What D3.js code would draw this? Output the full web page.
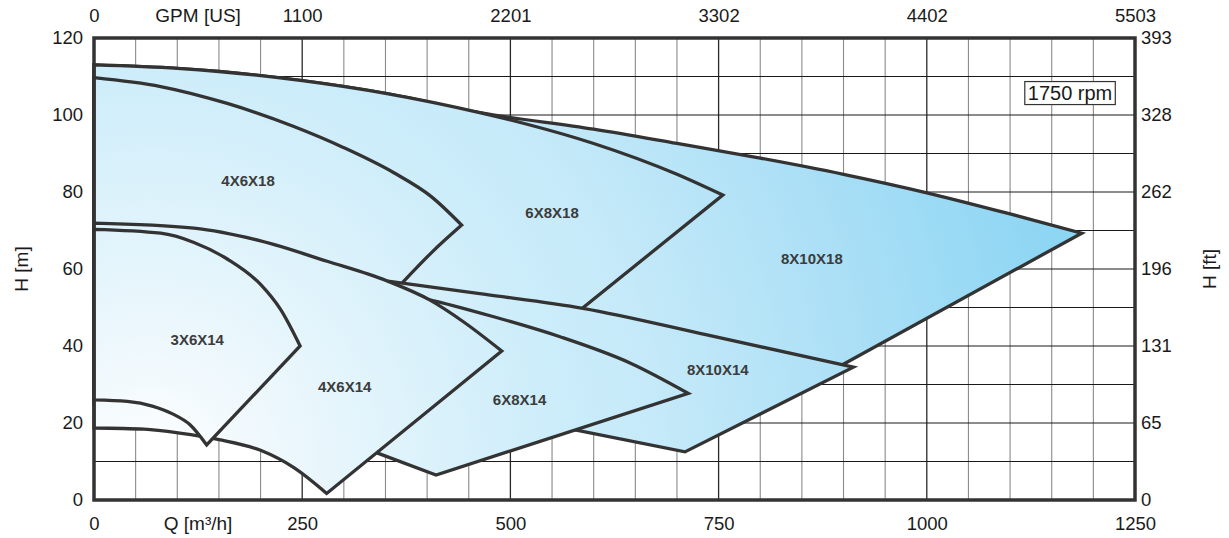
<!DOCTYPE html>
<html>
<head>
<meta charset="utf-8">
<script src="https://cdn.jsdelivr.net/npm/d3@7"></script>
<style>
html,body{margin:0;padding:0;background:#fff;}
svg{display:block;font-family:"Liberation Sans",Arial,Helvetica,sans-serif;}
</style>
</head>
<body>
<svg id="chart" width="1229" height="538"></svg>
<script>
// ---------- axes / ticks ----------
const qTicks = [0, 250, 500, 750, 1000, 1250];
const gpmTickLabels = ["0", "1100", "2201", "3302", "4402", "5503"];
const hTicks = [0, 20, 40, 60, 80, 100, 120];
const ftTickLabels = ["0", "65", "131", "196", "262", "328", "393"];
const qGridStep = 50;
const hGridStep = 10;
const rpmText = "1750 rpm";

// ---------- pump envelopes [Q m3/h, H m] ----------
// 8X10X18
const max8x10x18 = [[0,113],[100,112.1],[150,111.3],[250,108.9],[350,105.6],[463,100.6],[600,96.3],[700,92.6],[800,88.8],[900,84.6],[1000,79.8],[1100,74.3],[1186,69.3]];
const edge8x10x18 = [[1186,69.3],[890,34.1]];
const min8x10x18 = [[890,34.1],[736,41],[587,48],[355,55],[0,50]];
// 6X8X18
const max6x8x18 = [[0,113],[100,112.1],[150,111.3],[250,108.9],[350,105.6],[463,100.6],[520,97.6],[600,92.6],[700,84.6],[755,79.2]];
const edge6x8x18 = [[755,79.2],[580,48.7]];
const min6x8x18 = [[580,48.7],[355,55],[0,50]];
// 4X6X18
const max4x6x18 = [[0,109.7],[80,107.4],[160,103],[240,97],[300,91.5],[360,85],[405,78.8],[441.5,71.4]];
const edge4x6x18 = [[441.5,71.4],[405,64.2],[371,56.6]];
const min4x6x18 = [[371,56.6],[366,54.5],[0,50]];
// 8X10X14
const max8x10x14 = [[0,64],[200,60.8],[355,56.8],[470,53.4],[587,49.8],[736,42.9],[911.8,34.5]];
const edge8x10x14 = [[911.8,34.5],[709.6,12.5]];
const min8x10x14 = [[709.6,12.5],[577.6,18.2],[450,22],[300,30],[0,40]];
// 6X8X14
const max6x8x14 = [[0,62],[200,58],[399.6,52.2],[480,47.6],[559.6,42.4],[643.6,35.6],[713.6,27.7]];
const edge6x8x14 = [[713.6,27.7],[410.7,6.5]];
const min6x8x14 = [[410.7,6.5],[341.4,12.1],[250,20],[0,25]];
// 4X6X14
const max4x6x14 = [[0,71.9],[120,70.6],[200,67.3],[280,62],[352,56.9],[403.5,51.9],[443.5,46.3],[489.6,38.7]];
const edge4x6x14 = [[489.6,38.7],[279.4,1.7]];
const min4x6x14 = [[279.4,1.7],[240,8.4],[200,12.9],[150,15.7],[103,17.4],[60,18.4],[0,18.7]];
// 3X6X14
const max3x6x14 = [[0,70.3],[80,69.3],[120,66.9],[160,62.6],[200,56],[224,49.5],[247.5,40]];
const edge3x6x14 = [[247.5,40],[135.3,14.3]];
const min3x6x14 = [[135.3,14.3],[115,19.6],[95,22.3],[70,24.4],[40,25.6],[0,26]];

// labels
const pumpNames = ["8X10X18", "6X8X18", "4X6X18", "8X10X14", "6X8X14", "4X6X14", "3X6X14"];
const labelQ = [862, 550, 185, 749, 511, 301, 124];
const labelH = [62.6, 74.8, 82.9, 34, 26.2, 29.6, 41.8];

// ---------- build ----------
const pumps = [
  {max: max8x10x18, edge: edge8x10x18, min: min8x10x18, edgeSmooth: false, minSmooth: false},
  {max: max6x8x18, edge: edge6x8x18, min: min6x8x18, edgeSmooth: false, minSmooth: false},
  {max: max4x6x18, edge: edge4x6x18, min: min4x6x18, edgeSmooth: true, minSmooth: false},
  {max: max8x10x14, edge: edge8x10x14, min: min8x10x14, edgeSmooth: false, minSmooth: false},
  {max: max6x8x14, edge: edge6x8x14, min: min6x8x14, edgeSmooth: false, minSmooth: false},
  {max: max4x6x14, edge: edge4x6x14, min: min4x6x14, edgeSmooth: false, minSmooth: true},
  {max: max3x6x14, edge: edge3x6x14, min: min3x6x14, edgeSmooth: false, minSmooth: true}
];

const pL = 94, pR = 1135, pT = 38, pB = 500;
const x = d3.scaleLinear().domain([0, 1250]).range([pL, pR]);
const y = d3.scaleLinear().domain([0, 120]).range([pB, pT]);

const svg = d3.select("#chart");
const defs = svg.append("defs");
const grad = defs.append("radialGradient")
  .attr("id", "fillGrad")
  .attr("gradientUnits", "userSpaceOnUse")
  .attr("cx", 150).attr("cy", 470).attr("r", 1000)
  .attr("fx", 150).attr("fy", 470);
[[0, "#ffffff"], [0.1, "#f1f9fd"], [0.4, "#cdedfa"], [0.5, "#c6eaf9"], [0.7, "#ade0f6"], [1, "#84d3f3"]]
  .forEach(s => grad.append("stop").attr("offset", s[0]).attr("stop-color", s[1]));

// grid
const g = svg.append("g");
const qGrid = d3.range(qGridStep, 1250, qGridStep);
g.selectAll("line.vg").data(qGrid).join("line")
  .attr("x1", d => x(d)).attr("x2", d => x(d))
  .attr("y1", y(0)).attr("y2", y(120))
  .attr("stroke", d => d % 250 === 0 ? "#2a2a2a" : "#8a8a8a")
  .attr("stroke-width", d => d % 250 === 0 ? 1.3 : 1.1);
const hGrid = d3.range(hGridStep, 120, hGridStep);
g.selectAll("line.hg").data(hGrid).join("line")
  .attr("x1", x(0)).attr("x2", x(1250))
  .attr("y1", d => y(d)).attr("y2", d => y(d))
  .attr("stroke", "#1a1a1a").attr("stroke-width", 1.1);

// regions
const smoothLine = d3.line().x(d => x(d[0])).y(d => y(d[1])).curve(d3.curveMonotoneX);
const straightLine = d3.line().x(d => x(d[0])).y(d => y(d[1])).curve(d3.curveLinear);
function regionPath(p) {
  const parts = [
    smoothLine(p.max),
    (p.edgeSmooth ? smoothLine : straightLine)(p.edge),
    (p.minSmooth ? smoothLine : straightLine)(p.min)
  ];
  return parts.map((s, i) => i === 0 ? s : s.replace(/^M/, "L")).join("") + "Z";
}
const rg = svg.append("g");
pumps.forEach(p => {
  rg.append("path")
    .attr("d", regionPath(p))
    .attr("fill", "url(#fillGrad)")
    .attr("stroke", "#333333")
    .attr("stroke-width", 3.3)
    .attr("stroke-linejoin", "miter")
    .attr("stroke-miterlimit", 10);
});

// region labels
svg.append("g").selectAll("text").data(pumpNames).join("text")
  .attr("x", (d, i) => x(labelQ[i]))
  .attr("y", (d, i) => y(labelH[i]))
  .attr("text-anchor", "middle")
  .attr("dominant-baseline", "central")
  .attr("font-size", 15)
  .attr("font-weight", "bold")
  .attr("fill", "#3c3c3c")
  .text(d => d);

// frame
svg.append("rect")
  .attr("x", x(0)).attr("y", y(120))
  .attr("width", x(1250) - x(0)).attr("height", y(0) - y(120))
  .attr("fill", "none").attr("stroke", "#333333").attr("stroke-width", 3.5);

// axes
function styleAxis(sel) {
  sel.select(".domain").remove();
  sel.selectAll(".tick line").remove();
  sel.selectAll("text").attr("font-size", 18.5).attr("fill", "#1a1a1a")
    .attr("font-family", "'Liberation Sans',Arial,Helvetica,sans-serif");
}
svg.append("g").attr("transform", `translate(0,${pB})`)
  .call(d3.axisBottom(x).tickValues(qTicks).tickSize(0).tickPadding(17).tickFormat(d3.format("d")))
  .call(styleAxis);
svg.append("g").attr("transform", `translate(0,${pT})`)
  .call(d3.axisTop(x).tickValues(qTicks).tickSize(0).tickPadding(16).tickFormat((d, i) => gpmTickLabels[i]))
  .call(styleAxis);
svg.append("g").attr("transform", `translate(${pL},0)`)
  .call(d3.axisLeft(y).tickValues(hTicks).tickSize(0).tickPadding(11).tickFormat(d3.format("d")))
  .call(styleAxis);
svg.append("g").attr("transform", `translate(${pR},0)`)
  .call(d3.axisRight(y).tickValues(hTicks).tickSize(0).tickPadding(6).tickFormat((d, i) => ftTickLabels[i]))
  .call(styleAxis);

// axis titles
const titleStyle = t => t.attr("font-size", 19).attr("fill", "#1a1a1a");
svg.append("text").attr("x", x(125)).attr("y", pT - 16).attr("text-anchor", "middle").text("GPM [US]").call(titleStyle);
svg.append("text").attr("x", x(125)).attr("y", pB + 30).attr("text-anchor", "middle").text("Q [m³/h]").call(titleStyle);
svg.append("text").attr("transform", `translate(21,${y(60)}) rotate(-90)`).attr("text-anchor", "middle")
  .attr("dominant-baseline", "central").text("H [m]").call(titleStyle);
svg.append("text").attr("transform", `translate(1209,${y(60)}) rotate(-90)`).attr("text-anchor", "middle")
  .attr("dominant-baseline", "central").text("H [ft]").call(titleStyle);

// rpm box
const rpmG = svg.append("g");
const rpmT = rpmG.append("text")
  .attr("x", x(1172)).attr("y", y(105.7))
  .attr("text-anchor", "middle").attr("dominant-baseline", "central")
  .attr("font-size", 20).attr("fill", "#1a1a1a").text(rpmText);
const bb = rpmT.node().getBBox();
rpmG.insert("rect", "text")
  .attr("x", bb.x - 3).attr("y", y(105.7) - 11.5)
  .attr("width", bb.width + 6).attr("height", 23)
  .attr("fill", "#fff").attr("stroke", "#333").attr("stroke-width", 1.2);
</script>
</body>
</html>
